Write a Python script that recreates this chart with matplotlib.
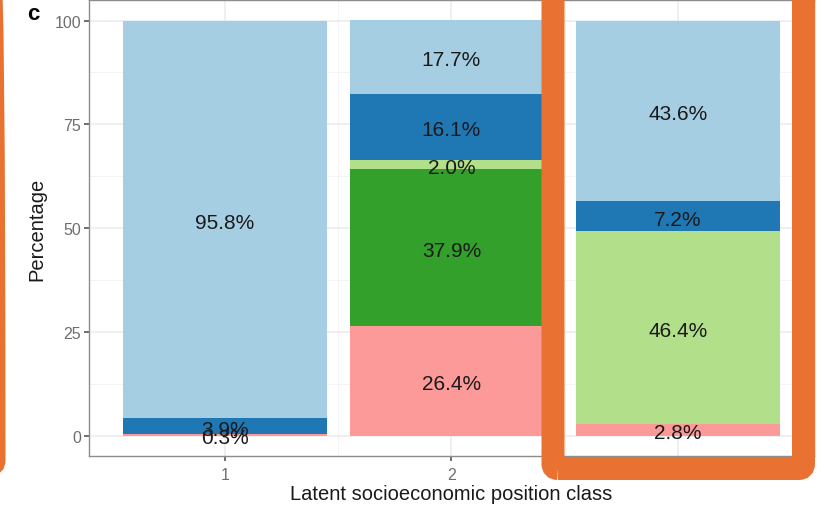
import numpy as np
import matplotlib
matplotlib.use("Agg")
import matplotlib.pyplot as plt
from matplotlib.patches import FancyBboxPatch
from matplotlib.transforms import IdentityTransform

plt.rcParams['font.family'] = ['Liberation Sans', 'DejaVu Sans']

# Data (percentages per latent class, stacked bottom -> top)
classes = ["1", "2", "3"]
seg_pink = [0.3, 26.4, 2.8]
seg_green = [0.0, 37.9, 0.0]
seg_lightgreen = [0.0, 2.0, 46.4]
seg_darkblue = [3.9, 16.1, 7.2]
seg_lightblue = [95.8, 17.7, 43.6]

segments = [seg_pink, seg_green, seg_lightgreen, seg_darkblue, seg_lightblue]
colors = ["#FB9A99", "#33A02C", "#B2DF8A", "#1F78B4", "#A6CEE3"]

fig = plt.figure(figsize=(8.28, 5.10), dpi=100)
ax = fig.add_axes([89 / 828, 52.7 / 510, 725 / 828, 456.5 / 510])

x = np.arange(1, len(classes) + 1)
bottom = np.zeros(len(classes))
for vals, col in zip(segments, colors):
    vals = np.array(vals)
    ax.bar(x, vals, width=0.9, bottom=bottom, color=col, linewidth=0, zorder=2)
    for xi, b, v in zip(x, bottom, vals):
        if v > 0:
            # small downward nudge so glyphs sit like ggplot's vjust=0.5
            ax.text(xi, b + v / 2 - 0.7, f"{v:.1f}%", ha="center", va="center",
                    fontsize=15, color="#1a1a1a", zorder=3)
    bottom += vals

ax.set_xlim(0.4, 3.6)
ax.set_ylim(-5, 105)
ax.set_xticks(x)
ax.set_xticklabels(classes)
ax.set_yticks([0, 25, 50, 75, 100])
ax.set_yticks([12.5, 37.5, 62.5, 87.5], minor=True)
ax.set_xticks([1.5, 2.5], minor=True)

ax.grid(which="major", color="#EBEBEB", linewidth=1.1, zorder=0)
ax.grid(which="minor", color="#F2F2F2", linewidth=0.6, zorder=0)
ax.set_axisbelow(True)

ax.tick_params(axis="both", which="major", colors="#555555", labelsize=11.5,
               length=3.5, width=1.2)
ax.tick_params(axis="x", which="major", pad=4, labelcolor="#6E6E6E")
ax.tick_params(axis="y", which="major", pad=2, labelcolor="#6E6E6E")
ax.tick_params(which="minor", length=0)
for sp in ax.spines.values():
    sp.set_color("#8C8C8C")
    sp.set_linewidth(1.0)

ax.set_ylabel("Percentage", fontsize=14.5, color="#1a1a1a", labelpad=6)
ax.set_xlabel("Latent socioeconomic position class", fontsize=14.5,
              color="#1a1a1a", labelpad=1.5)

fig.text(27 / 828, 1 - 14 / 510, "c", fontsize=16, fontweight="bold",
         ha="left", va="center")

# Orange highlight boxes (pixel coordinates, origin bottom-left)
orange = "#E97132"
lw = 23 * 72 / 100
box = FancyBboxPatch((553, 40.5), 250.5, 500, boxstyle="round,pad=0,rounding_size=5",
                     fill=False, edgecolor=orange, linewidth=lw,
                     transform=IdentityTransform(), zorder=10)
fig.add_artist(box)
left = FancyBboxPatch((-300, 44), 294, 500, boxstyle="round,pad=0,rounding_size=5",
                      fill=False, edgecolor=orange, linewidth=lw,
                      transform=IdentityTransform(), zorder=10)
fig.add_artist(left)

fig.savefig("out.png", dpi=100)
